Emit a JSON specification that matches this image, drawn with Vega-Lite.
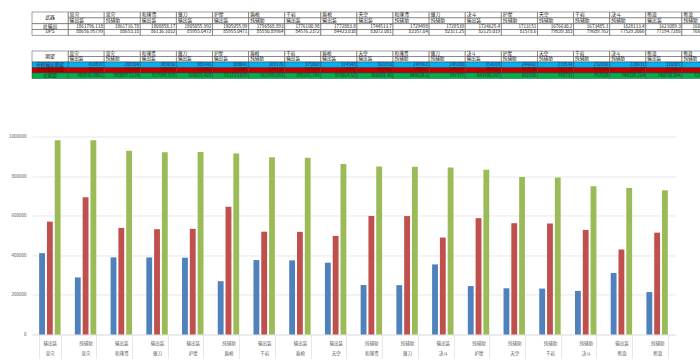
{
  "$schema": "https://vega.github.io/schema/vega-lite/v6.json",
  "padding": {"left": 8, "top": 11, "right": 6, "bottom": 0},
  "config": {"font": "Noto Sans CJK SC", "view": {"stroke": null}},
  "datasets": {
    "weapons": [
      {"n": 1, "name": "息灾", "type": "输出装", "cat": "输出装 息灾", "total": 1861796.118, "dps": 88656.95799, "out": 410837, "sup": 570100, "exp": 980936.8862},
      {"n": 2, "name": "息灾", "type": "纯辅助", "cat": "纯辅助 息灾", "total": 1861716.78, "dps": 88653.18, "out": 288304, "sup": 692594, "exp": 980897.5124},
      {"n": 3, "name": "和璞鸢", "type": "输出装", "cat": "输出装 和璞鸢", "total": 1808858.17, "dps": 86136.1032, "out": 389636, "sup": 538363, "exp": 927998.929},
      {"n": 4, "name": "薙刀", "type": "输出装", "cat": "输出装 薙刀", "total": 1805055.992, "dps": 85955.0472, "out": 389146, "sup": 531683, "exp": 920829.429},
      {"n": 5, "name": "护摩", "type": "输出装", "cat": "输出装 护摩", "total": 1805055.99, "dps": 85955.0471, "out": 388041, "sup": 533682, "exp": 921723.079},
      {"n": 6, "name": "盾枪", "type": "纯辅助", "cat": "纯辅助 盾枪", "total": 1796568.893, "dps": 85550.89964, "out": 269176, "sup": 644624, "exp": 913799.653},
      {"n": 7, "name": "千岩", "type": "输出装", "cat": "输出装 千岩", "total": 1776100.98, "dps": 84576.2372, "out": 375868, "sup": 519374, "exp": 895241.744},
      {"n": 8, "name": "盾枪", "type": "输出装", "cat": "输出装 盾枪", "total": 1772883.8, "dps": 84423.038, "out": 374548, "sup": 518477, "exp": 893024.52},
      {"n": 9, "name": "天空", "type": "输出装", "cat": "输出装 天空", "total": 1744513.7, "dps": 83072.081, "out": 362650, "sup": 497951, "exp": 860601.46},
      {"n": 10, "name": "和璞鸢", "type": "纯辅助", "cat": "纯辅助 和璞鸢", "total": 1729498, "dps": 82357.04, "out": 249962, "sup": 598667, "exp": 848628.6},
      {"n": 11, "name": "薙刀", "type": "纯辅助", "cat": "纯辅助 薙刀", "total": 1728539, "dps": 82311.25, "out": 249200, "sup": 598177, "exp": 847377},
      {"n": 12, "name": "决斗", "type": "输出装", "cat": "输出装 决斗", "total": 1724625.4, "dps": 82125.019, "out": 354109, "sup": 489591, "exp": 843700.167},
      {"n": 13, "name": "护摩", "type": "纯辅助", "cat": "纯辅助 护摩", "total": 1713151, "dps": 81578.6, "out": 244662, "sup": 587530, "exp": 832192},
      {"n": 14, "name": "天空", "type": "纯辅助", "cat": "纯辅助 天空", "total": 1676630.2, "dps": 79839.383, "out": 233534, "sup": 562197, "exp": 795731},
      {"n": 15, "name": "千岩", "type": "纯辅助", "cat": "纯辅助 千岩", "total": 1673485.1, "dps": 79689.762, "out": 232036, "sup": 560584, "exp": 792620},
      {"n": 16, "name": "决斗", "type": "纯辅助", "cat": "纯辅助 决斗", "total": 1628113.4, "dps": 77529.2066, "out": 220031, "sup": 528297, "exp": 748328.164},
      {"n": 17, "name": "断浪", "type": "输出装", "cat": "输出装 断浪", "total": 1621089.3, "dps": 77194.7286, "out": 310887, "sup": 429343, "exp": 740230.094},
      {"n": 18, "name": "断浪", "type": "纯辅助", "cat": "纯辅助 断浪", "total": 1609539.16, "dps": 76644.7221, "out": 214260, "sup": 514420, "exp": 728679.927}
    ],
    "labels1": [
      {"n": 0, "lab": "武器", "key": "name", "key2": "type"},
      {"n": 0, "lab": "总输出", "key": "total", "key2": "total"},
      {"n": 0, "lab": "DPS", "key": "dps", "key2": "dps"}
    ],
    "labels2": [
      {"n": 0, "lab": "期望", "key": "name", "key2": "type"},
      {"n": 0, "lab": "申鹤输出期望", "key": "out", "key2": "out"},
      {"n": 0, "lab": "冰翎增伤期望", "key": "sup", "key2": "sup"},
      {"n": 0, "lab": "总期望", "key": "exp", "key2": "exp"}
    ]
  },
  "resolve": {"scale": {"x": "independent", "y": "independent", "color": "independent", "fill": "independent"}},
  "spacing": 54.5,
  "vconcat": [
    {
      "spacing": 14,
      "resolve": {"scale": {"x": "independent", "y": "independent", "color": "independent", "fill": "independent"}},
      "vconcat": [
        {
          "width": 686,
          "height": 23.4,
          "layer": [
            {
              "data": {"name": "weapons"},
              "transform": [{"fold": ["name", "type", "total", "dps"]}],
              "mark": {"type": "rect", "fill": "white", "stroke": "#404040", "strokeWidth": 0.5},
              "encoding": {
                "x": {"field": "n", "type": "ordinal", "scale": {"paddingInner": 0, "paddingOuter": 0}, "axis": null},
                "y": {"field": "key", "type": "nominal", "scale": {"domain": ["name", "type", "total", "dps"], "paddingInner": 0, "paddingOuter": 0}, "axis": null}
              }
            },
            {
              "data": {"name": "labels1"},
              "mark": {"type": "rect", "fill": "white", "stroke": "#404040", "strokeWidth": 0.5},
              "encoding": {
                "x": {"field": "n", "type": "ordinal", "scale": {"paddingInner": 0, "paddingOuter": 0}, "axis": null},
                "y": {"field": "key", "type": "nominal", "bandPosition": 0, "scale": {"domain": ["name", "type", "total", "dps"], "paddingInner": 0, "paddingOuter": 0}, "axis": null},
                "y2": {"field": "key2", "bandPosition": 1}
              }
            },
            {
              "data": {"name": "weapons"},
              "transform": [{"fold": ["name", "type"]}],
              "mark": {"type": "text", "align": "left", "baseline": "middle", "dx": 1.5, "fontSize": 4.8, "color": "#111"},
              "encoding": {
                "x": {"field": "n", "type": "ordinal", "bandPosition": 0, "scale": {"paddingInner": 0, "paddingOuter": 0}, "axis": null},
                "y": {"field": "key", "type": "nominal", "scale": {"domain": ["name", "type", "total", "dps"], "paddingInner": 0, "paddingOuter": 0}, "axis": null},
                "text": {"field": "value", "type": "nominal"}
              }
            },
            {
              "data": {"name": "weapons"},
              "transform": [{"fold": ["total", "dps"]}],
              "mark": {"type": "text", "align": "right", "baseline": "middle", "dx": -1.2, "fontSize": 4.6, "color": "#111"},
              "encoding": {
                "x": {"field": "n", "type": "ordinal", "bandPosition": 1, "scale": {"paddingInner": 0, "paddingOuter": 0}, "axis": null},
                "y": {"field": "key", "type": "nominal", "scale": {"domain": ["name", "type", "total", "dps"], "paddingInner": 0, "paddingOuter": 0}, "axis": null},
                "text": {"field": "value", "type": "nominal"}
              }
            },
            {
              "data": {"name": "labels1"},
              "transform": [{"filter": "datum.key != datum.key2"}],
              "mark": {"type": "text", "align": "center", "baseline": "middle", "fontSize": 4.8, "color": "#111"},
              "encoding": {
                "x": {"field": "n", "type": "ordinal", "scale": {"paddingInner": 0, "paddingOuter": 0}, "axis": null},
                "y": {"field": "key", "type": "nominal", "bandPosition": 1, "scale": {"domain": ["name", "type", "total", "dps"], "paddingInner": 0, "paddingOuter": 0}, "axis": null},
                "text": {"field": "lab", "type": "nominal"}
              }
            },
            {
              "data": {"name": "labels1"},
              "transform": [{"filter": "datum.key == datum.key2"}],
              "mark": {"type": "text", "align": "center", "baseline": "middle", "fontSize": 4.8, "color": "#111"},
              "encoding": {
                "x": {"field": "n", "type": "ordinal", "scale": {"paddingInner": 0, "paddingOuter": 0}, "axis": null},
                "y": {"field": "key", "type": "nominal", "scale": {"domain": ["name", "type", "total", "dps"], "paddingInner": 0, "paddingOuter": 0}, "axis": null},
                "text": {"field": "lab", "type": "nominal"}
              }
            }
          ]
        },
        {
          "width": 686,
          "height": 27.5,
          "layer": [
            {
              "data": {"name": "weapons"},
              "transform": [{"fold": ["name", "type", "out", "sup", "exp"]}],
              "mark": {"type": "rect", "stroke": "#404040", "strokeWidth": 0.5},
              "encoding": {
                "x": {"field": "n", "type": "ordinal", "scale": {"paddingInner": 0, "paddingOuter": 0}, "axis": null},
                "y": {"field": "key", "type": "nominal", "scale": {"domain": ["name", "type", "out", "sup", "exp"], "paddingInner": 0, "paddingOuter": 0}, "axis": null},
                "fill": {"field": "key", "type": "nominal", "scale": {"domain": ["name", "type", "out", "sup", "exp"], "range": ["#ffffff", "#ffffff", "#00B0F0", "#C00000", "#00B050"]}, "legend": null}
              }
            },
            {
              "data": {"name": "labels2"},
              "mark": {"type": "rect", "stroke": "#404040", "strokeWidth": 0.5},
              "encoding": {
                "x": {"field": "n", "type": "ordinal", "scale": {"paddingInner": 0, "paddingOuter": 0}, "axis": null},
                "y": {"field": "key", "type": "nominal", "bandPosition": 0, "scale": {"domain": ["name", "type", "out", "sup", "exp"], "paddingInner": 0, "paddingOuter": 0}, "axis": null},
                "y2": {"field": "key2", "bandPosition": 1},
                "fill": {"field": "key", "type": "nominal", "scale": {"domain": ["name", "type", "out", "sup", "exp"], "range": ["#ffffff", "#ffffff", "#00B0F0", "#C00000", "#00B050"]}, "legend": null}
              }
            },
            {
              "data": {"name": "weapons"},
              "transform": [{"fold": ["name", "type"]}],
              "mark": {"type": "text", "align": "left", "baseline": "middle", "dx": 1.5, "fontSize": 4.6, "color": "#111"},
              "encoding": {
                "x": {"field": "n", "type": "ordinal", "bandPosition": 0, "scale": {"paddingInner": 0, "paddingOuter": 0}, "axis": null},
                "y": {"field": "key", "type": "nominal", "scale": {"domain": ["name", "type", "out", "sup", "exp"], "paddingInner": 0, "paddingOuter": 0}, "axis": null},
                "text": {"field": "value", "type": "nominal"}
              }
            },
            {
              "data": {"name": "weapons"},
              "transform": [{"fold": ["out", "sup", "exp"]}],
              "mark": {"type": "text", "align": "right", "baseline": "middle", "dx": -1.2, "fontSize": 4.4},
              "encoding": {
                "x": {"field": "n", "type": "ordinal", "bandPosition": 1, "scale": {"paddingInner": 0, "paddingOuter": 0}, "axis": null},
                "y": {"field": "key", "type": "nominal", "scale": {"domain": ["name", "type", "out", "sup", "exp"], "paddingInner": 0, "paddingOuter": 0}, "axis": null},
                "text": {"field": "value", "type": "nominal"},
                "color": {"field": "key", "type": "nominal", "scale": {"domain": ["name", "type", "out", "sup", "exp"], "range": ["#111111", "#111111", "#2b2456", "#6e0000", "#0e3a18"]}, "legend": null}
              }
            },
            {
              "data": {"name": "labels2"},
              "transform": [{"filter": "datum.key != datum.key2"}],
              "mark": {"type": "text", "align": "center", "baseline": "middle", "fontSize": 4.8, "color": "#111"},
              "encoding": {
                "x": {"field": "n", "type": "ordinal", "scale": {"paddingInner": 0, "paddingOuter": 0}, "axis": null},
                "y": {"field": "key", "type": "nominal", "bandPosition": 1, "scale": {"domain": ["name", "type", "out", "sup", "exp"], "paddingInner": 0, "paddingOuter": 0}, "axis": null},
                "text": {"field": "lab", "type": "nominal"}
              }
            },
            {
              "data": {"name": "labels2"},
              "transform": [{"filter": "datum.key == datum.key2"}],
              "mark": {"type": "text", "align": "center", "baseline": "middle", "fontSize": 4.6},
              "encoding": {
                "x": {"field": "n", "type": "ordinal", "scale": {"paddingInner": 0, "paddingOuter": 0}, "axis": null},
                "y": {"field": "key", "type": "nominal", "scale": {"domain": ["name", "type", "out", "sup", "exp"], "paddingInner": 0, "paddingOuter": 0}, "axis": null},
                "text": {"field": "lab", "type": "nominal"},
                "color": {"field": "key", "type": "nominal", "scale": {"domain": ["name", "type", "out", "sup", "exp"], "range": ["#111111", "#111111", "#2b2456", "#6e0000", "#0e3a18"]}, "legend": null}
              }
            }
          ]
        }
      ]
    },
    {
      "width": 643,
      "height": 198,
      "data": {"name": "weapons"},
      "transform": [{"fold": ["out", "sup", "exp"], "as": ["series", "val"]}],
      "mark": {"type": "bar"},
      "encoding": {
        "x": {
          "field": "cat", "type": "nominal", "sort": {"field": "n", "op": "min"},
          "scale": {"paddingInner": 0.4, "paddingOuter": 0.2},
          "axis": {"title": null, "labelExpr": "split(datum.label, ' ')", "labelAngle": 0, "labelFontSize": 4.5, "labelLineHeight": 10, "labelColor": "#595959", "labelPadding": -18, "labelBaseline": "top", "tickBand": "extent", "tickSize": 24, "tickColor": "#d9d9d9", "tickWidth": 0.6, "domainColor": "#d9d9d9", "domainWidth": 0.6}
        },
        "xOffset": {"field": "series", "type": "nominal", "sort": ["out", "sup", "exp"], "scale": {"paddingInner": 0.25}},
        "y": {
          "field": "val", "type": "quantitative", "scale": {"domain": [0, 1000000]},
          "axis": {"title": null, "values": [0, 200000, 400000, 600000, 800000, 1000000], "format": "d", "labelFontSize": 4.5, "labelColor": "#595959", "labelPadding": 6, "ticks": false, "domain": false, "gridColor": "#d9d9d9", "gridWidth": 0.6}
        },
        "color": {"field": "series", "type": "nominal", "scale": {"domain": ["out", "sup", "exp"], "range": ["#4F81BD", "#C0504D", "#9BBB59"]}, "legend": null}
      }
    }
  ]
}
